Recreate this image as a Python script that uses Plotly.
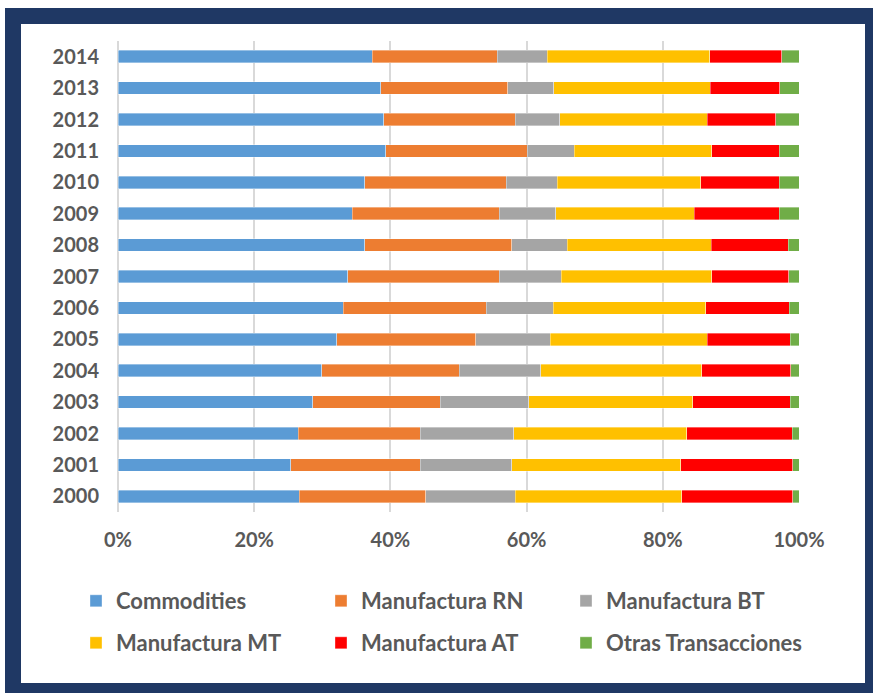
import plotly.graph_objects as go

years = ["2000", "2001", "2002", "2003", "2004", "2005", "2006", "2007",
         "2008", "2009", "2010", "2011", "2012", "2013", "2014"]

commodities = [26.6, 25.4, 26.5, 28.6, 29.9, 32.1, 33.1, 33.7, 36.2, 34.4, 36.2, 39.3, 39.0, 38.6, 37.3]
manuf_rn    = [18.6, 19.0, 17.9, 18.7, 20.2, 20.4, 21.0, 22.3, 21.6, 21.6, 20.8, 20.8, 19.3, 18.6, 18.4]
manuf_bt    = [13.1, 13.4, 13.7, 13.0, 12.0, 11.0, 9.8, 9.1, 8.2, 8.3, 7.5, 6.9, 6.6, 6.8, 7.3]
manuf_mt    = [24.5, 24.8, 25.4, 24.1, 23.6, 23.0, 22.4, 22.1, 21.1, 20.3, 21.1, 20.2, 21.6, 23.0, 23.9]
manuf_at    = [16.3, 16.5, 15.5, 14.3, 13.1, 12.2, 12.3, 11.3, 11.3, 12.5, 11.5, 9.9, 10.1, 10.2, 10.6]
otras       = [0.9, 0.9, 1.0, 1.3, 1.2, 1.3, 1.4, 1.5, 1.6, 2.9, 2.9, 2.9, 3.4, 2.8, 2.5]

series_names = ["Commodities", "Manufactura RN", "Manufactura BT",
                "Manufactura MT", "Manufactura AT", "Otras Transacciones"]
series_values = [commodities, manuf_rn, manuf_bt, manuf_mt, manuf_at, otras]
colors = ["#5B9BD5", "#ED7D31", "#A5A5A5", "#FFC000", "#FF0000", "#70AD47"]
legend_ids = ["legend", "legend", "legend", "legend2", "legend2", "legend2"]

x_ticks = [0, 20, 40, 60, 80, 100]
x_tick_labels = ["0%", "20%", "40%", "60%", "80%", "100%"]

W, H = 873, 693
L, R, T, B = 118, 74, 41, 181
PW, PH = W - L - R, H - T - B

def px_x(p):
    return (p - L) / PW

def px_y(p):
    return (H - B - p) / PH

FONT = "Lato"
GREY = "#595959"

fig = go.Figure()
for name, vals, col, lg in zip(series_names, series_values, colors, legend_ids):
    fig.add_trace(go.Bar(
        y=years, x=vals, name=name, orientation="h",
        marker=dict(color=col, line=dict(width=0.6, color="rgba(255,255,255,0.6)")),
        legend=lg,
    ))

legend_common = dict(
    orientation="h", xanchor="left", yanchor="middle", traceorder="normal",
    entrywidth=200, entrywidthmode="pixels", bgcolor="rgba(0,0,0,0)",
    font=dict(family=FONT, size=22, color=GREY, weight=700),
    itemclick=False, itemdoubleclick=False,
)

fig.update_layout(
    width=W, height=H,
    margin=dict(l=L, r=R, t=T, b=B, pad=0),
    barmode="stack", barnorm="percent", bargap=0.6,
    paper_bgcolor="white", plot_bgcolor="white",
    font=dict(family=FONT, size=20, color=GREY, weight=700),
    xaxis=dict(
        range=[0, 100], tickvals=x_ticks, ticktext=x_tick_labels,
        showgrid=True, gridcolor="#D9D9D9", gridwidth=1.5,
        zeroline=True, zerolinecolor="#D9D9D9", zerolinewidth=2,
        showline=False, ticks="",
        ticklabelstandoff=14, fixedrange=True,
        tickfont=dict(family=FONT, size=20, color=GREY, weight=700),
    ),
    yaxis=dict(
        categoryorder="array", categoryarray=years,
        showgrid=False, zeroline=False, showline=False, ticks="",
        ticklabelstandoff=18, fixedrange=True,
        tickfont=dict(family=FONT, size=20, color=GREY, weight=700),
    ),
    legend=dict(legend_common, x=px_x(76), y=px_y(601)),
    legend2=dict(legend_common, x=px_x(76), y=px_y(643)),
    shapes=[
        dict(type="rect", xref="paper", yref="paper", layer="below",
             x0=px_x(5), x1=px_x(W + 2), y0=px_y(H + 2), y1=px_y(8),
             fillcolor="#1F3864", line=dict(width=0)),
        dict(type="rect", xref="paper", yref="paper", layer="below",
             x0=px_x(21), x1=px_x(865), y0=px_y(683), y1=px_y(24),
             fillcolor="white", line=dict(width=0)),
    ],
)

fig.write_html(
    "out.html",
    config={"displayModeBar": False},
    post_script="document.body.style.margin='0';document.body.style.overflow='hidden';",
)
